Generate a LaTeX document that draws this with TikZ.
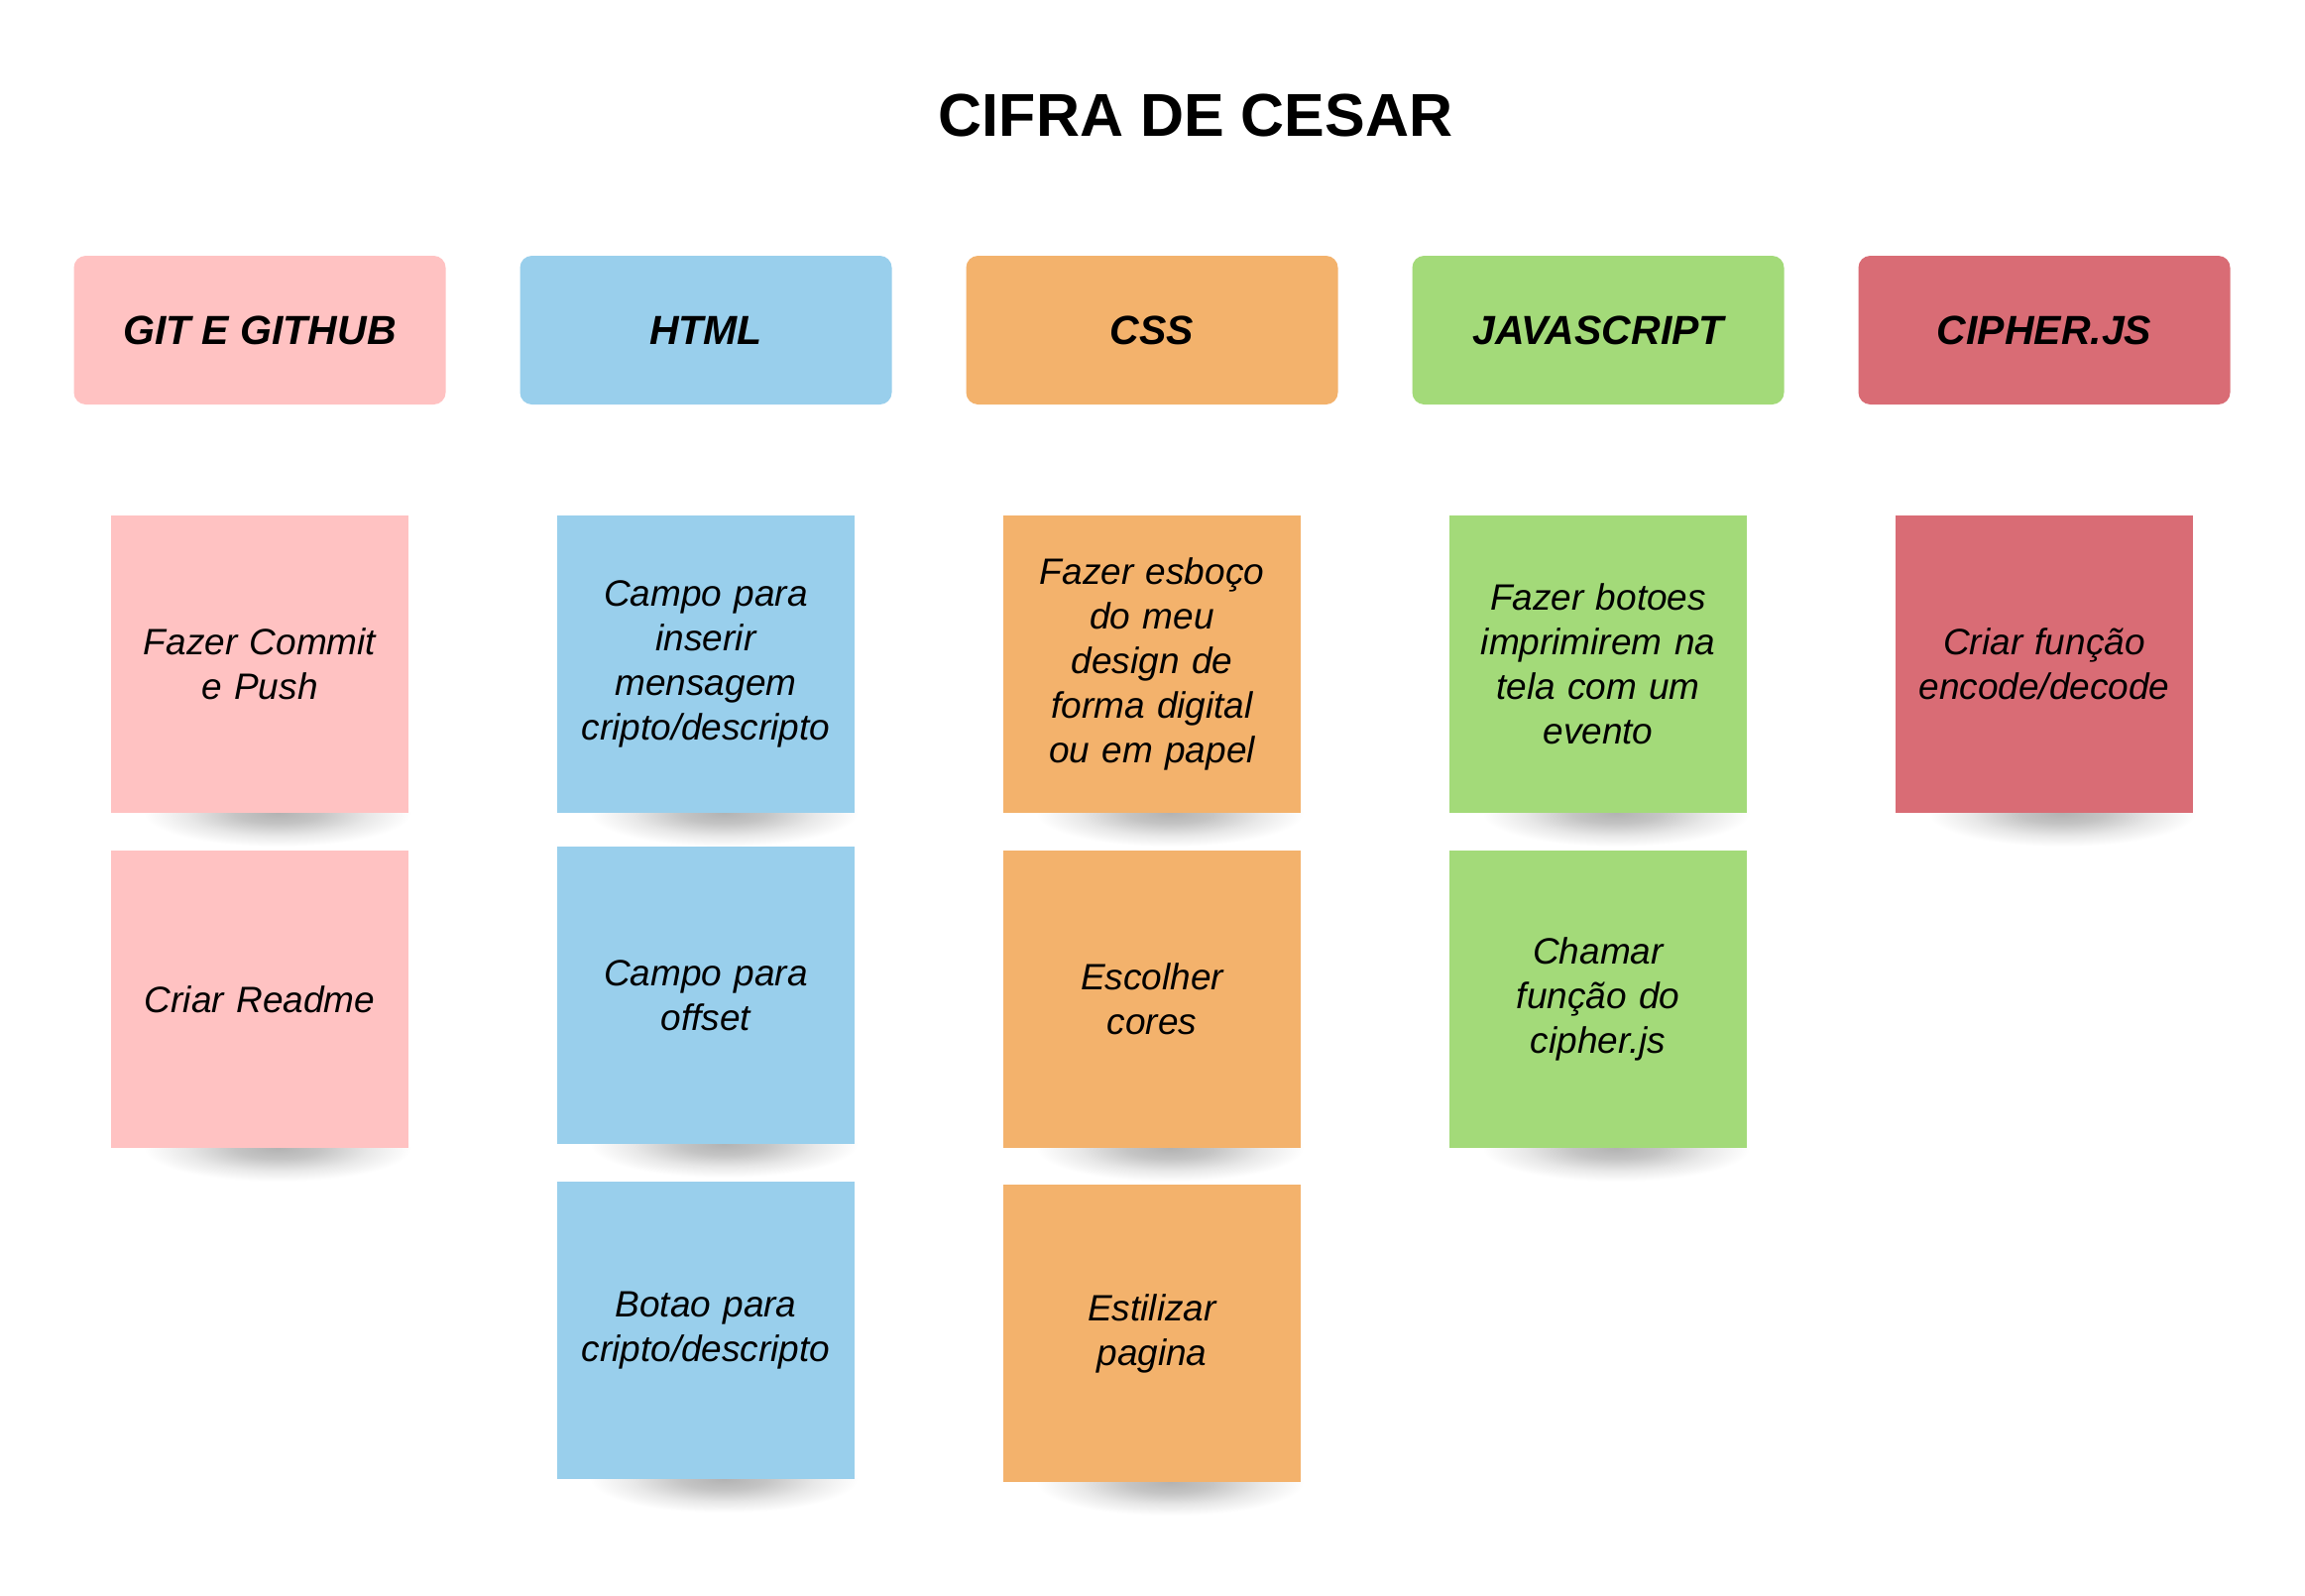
\documentclass[tikz,border=0pt]{standalone}
\usepackage{fontspec}
\setmainfont{Liberation Sans}
\definecolor{cpink}{HTML}{FFC2C2}
\definecolor{cblue}{HTML}{99CFEC}
\definecolor{corange}{HTML}{F3B26C}
\definecolor{cgreen}{HTML}{A3DA79}
\definecolor{cred}{HTML}{D96C75}
\pgfdeclareradialshading{softshadow}{\pgfpoint{0bp}{0bp}}{%
  color(0bp)=(black!30); color(8bp)=(black!23); color(17bp)=(black!9); color(25bp)=(white); color(50bp)=(white)}
\newcommand{\noteshadow}[2]{%
  \shade[shading=softshadow] (#1+18,#2+300) ellipse [x radius=135, y radius=34];%
}
\newcommand{\stickynote}[5]{%
  \node[note, fill=#1] (#4) at (#2,#3+150) {#5};%
}
\begin{document}
\begin{tikzpicture}[x=1pt,y=-1pt,
  header/.style={rounded corners=12pt, minimum width=375pt, minimum height=150pt, inner sep=0pt,
    font=\fontsize{41}{48}\selectfont\bfseries\itshape},
  note/.style={minimum width=300pt, minimum height=300pt, inner sep=0pt, align=center,
    text width=290pt, font=\fontsize{37}{45}\selectfont\itshape},
  titlestyle/.style={inner sep=0pt, font=\fontsize{61}{70}\selectfont\bfseries}
]
\useasboundingbox (0,0) rectangle (2325,1609);
\fill[white] (0,0) rectangle (2325,1609);

\node[titlestyle] (title) at (1206,116) {CIFRA DE CESAR};

\node[header, fill=cpink]   (hgit)  at (262,333)  {GIT E GITHUB};
\node[header, fill=cblue]   (hhtml) at (712,333)  {HTML};
\node[header, fill=corange] (hcss)  at (1162,333) {CSS};
\node[header, fill=cgreen]  (hjs)   at (1612,333) {JAVASCRIPT};
\node[header, fill=cred]    (hciph) at (2062,333) {CIPHER.JS};

% shadows (drawn first)
\noteshadow{262}{520}
\noteshadow{262}{858}
\noteshadow{712}{520}
\noteshadow{712}{854}
\noteshadow{712}{1192}
\noteshadow{1162}{520}
\noteshadow{1162}{858}
\noteshadow{1162}{1195}
\noteshadow{1612}{520}
\noteshadow{1612}{858}
\noteshadow{2062}{520}

\stickynote{cpink}{262}{520}{git1}{Fazer Commit\\e Push}
\stickynote{cpink}{262}{858}{git2}{Criar Readme}

\stickynote{cblue}{712}{520}{html1}{Campo para\\inserir\\mensagem\\cripto/descripto}
\stickynote{cblue}{712}{854}{html2}{Campo para\\offset}
\stickynote{cblue}{712}{1192}{html3}{Botao para\\cripto/descripto}

\stickynote{corange}{1162}{520}{css1}{Fazer esboço\\do meu\\design de\\forma digital\\ou em papel}
\stickynote{corange}{1162}{858}{css2}{Escolher\\cores}
\stickynote{corange}{1162}{1195}{css3}{Estilizar\\pagina}

\stickynote{cgreen}{1612}{520}{js1}{Fazer botoes\\imprimirem na\\tela com um\\evento}
\stickynote{cgreen}{1612}{858}{js2}{Chamar\\função do\\cipher.js}

\stickynote{cred}{2062}{520}{ciph1}{Criar função\\encode/decode}
\end{tikzpicture}
\end{document}
